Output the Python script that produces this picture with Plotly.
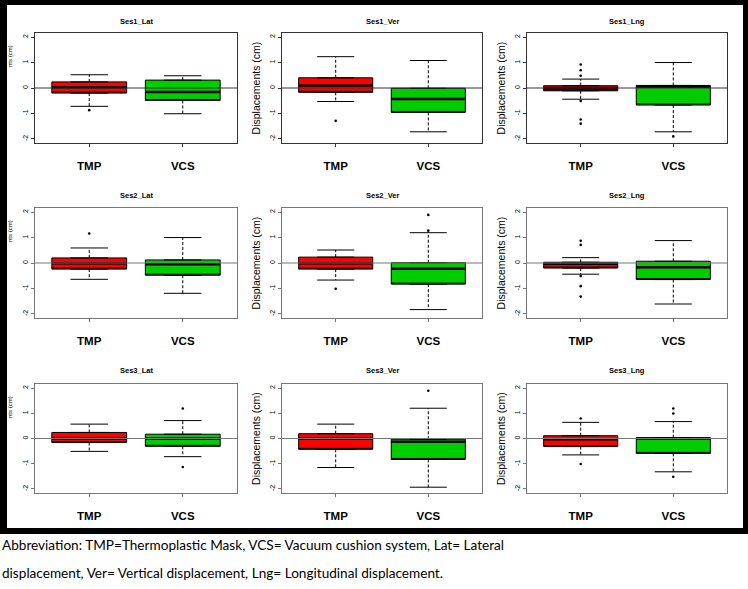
import plotly.graph_objects as go

W, H = 748, 589

groups = ["TMP", "VCS"]
panel_titles = ["Ses1_Lat", "Ses1_Ver", "Ses1_Lng",
                "Ses2_Lat", "Ses2_Ver", "Ses2_Lng",
                "Ses3_Lat", "Ses3_Ver", "Ses3_Lng"]
y_ticks = [-2, -1, 0, 1, 2]
y_tick_labels = ["-2", "-1", "0", "1", "2"]

# TMP statistics per panel
tmp_q1 = [-0.20, -0.17, -0.11, -0.24, -0.24, -0.20, -0.16, -0.43, -0.32]
tmp_med = [0.03, 0.10, 0.00, -0.01, -0.01, -0.03, 0.00, -0.01, -0.03]
tmp_q3 = [0.24, 0.40, 0.09, 0.20, 0.23, 0.03, 0.24, 0.19, 0.11]
tmp_lo = [-0.72, -0.53, -0.44, -0.64, -0.67, -0.44, -0.51, -1.15, -0.65]
tmp_hi = [0.52, 1.23, 0.35, 0.59, 0.51, 0.21, 0.57, 0.57, 0.64]
tmp_out = [[-0.87], [-1.29], [0.92, 0.70, 0.48, -0.51, -1.24, -1.40], [1.16],
           [-1.01], [0.87, 0.71, -0.51, -0.91, -1.32], [], [], [0.79, -1.01]]

# VCS statistics per panel
vcs_q1 = [-0.49, -0.96, -0.67, -0.48, -0.83, -0.65, -0.31, -0.83, -0.59]
vcs_med = [-0.16, -0.43, 0.05, -0.05, -0.23, -0.17, 0.00, -0.13, 0.00]
vcs_q3 = [0.31, -0.01, 0.10, 0.12, 0.01, 0.07, 0.17, -0.03, 0.03]
vcs_lo = [-1.01, -1.72, -1.72, -1.19, -1.83, -1.61, -0.72, -1.93, -1.32]
vcs_hi = [0.48, 1.08, 1.00, 1.00, 1.19, 0.88, 0.71, 1.20, 0.67]
vcs_out = [[], [], [-1.90], [], [1.27, 1.89], [], [1.19, -1.13], [1.89],
           [1.19, 0.99, -1.52]]

caption_lines = [
    "Abbreviation: TMP=Thermoplastic Mask, VCS= Vacuum cushion system, Lat= Lateral",
    "displacement, Ver= Vertical displacement, Lng= Longitudinal displacement.",
]

stats = {
    "TMP": (tmp_q1, tmp_med, tmp_q3, tmp_lo, tmp_hi, tmp_out, "#FF0000"),
    "VCS": (vcs_q1, vcs_med, vcs_q3, vcs_lo, vcs_hi, vcs_out, "#00CD00"),
}

# layout geometry (pixels)
col_px = [(35, 237), (282, 482), (527, 727)]
row_px = [(33, 143), (208, 318), (384, 493)]
title_px = [21, 195, 371]
frame_col = ["#333333", "#777777", "#777777"]

fig = go.Figure()
BW = 0.8
CAP = 0.4

for p in range(9):
    r, c = divmod(p, 3)
    ax = "" if p == 0 else str(p + 1)
    xr, yr = "x" + ax, "y" + ax
    for gi, g in enumerate(groups):
        q1, med, q3, lo, hi, out, col = stats[g]
        xc = gi + 1
        # box
        fig.add_trace(go.Box(
            x=[xc], q1=[q1[p]], median=[q1[p]], q3=[q3[p]],
            lowerfence=[q1[p]], upperfence=[q3[p]],
            width=BW, fillcolor=col, line=dict(color="black", width=1),
            boxpoints=False, hoverinfo="skip", showlegend=False,
            xaxis=xr, yaxis=yr))
        # whiskers (dashed)
        fig.add_trace(go.Scatter(
            x=[xc, xc, None, xc, xc], y=[q3[p], hi[p], None, q1[p], lo[p]],
            mode="lines", line=dict(color="black", width=1, dash="3px,2px"),
            hoverinfo="skip", showlegend=False, xaxis=xr, yaxis=yr))
        # caps
        fig.add_trace(go.Scatter(
            x=[xc - CAP / 2, xc + CAP / 2, None, xc - CAP / 2, xc + CAP / 2],
            y=[hi[p], hi[p], None, lo[p], lo[p]],
            mode="lines", line=dict(color="black", width=1),
            hoverinfo="skip", showlegend=False, xaxis=xr, yaxis=yr))
        # median
        fig.add_trace(go.Scatter(
            x=[xc - BW / 2, xc + BW / 2], y=[med[p], med[p]],
            mode="lines", line=dict(color="black", width=2.5),
            hoverinfo="skip", showlegend=False, xaxis=xr, yaxis=yr))
        # outliers
        if out[p]:
            fig.add_trace(go.Scatter(
                x=[xc] * len(out[p]), y=out[p], mode="markers",
                marker=dict(color="black", size=2.6),
                hoverinfo="skip", showlegend=False, xaxis=xr, yaxis=yr))
    # zero reference line over boxes
    fig.add_shape(type="line", xref=xr + " domain", yref=yr,
                  x0=0, x1=1, y0=0, y1=0,
                  line=dict(color=frame_col[r], width=1.2))

    x0, x1 = col_px[c]
    y0, y1 = row_px[r]
    xd = [x0 / W, x1 / W]
    yd = [1 - y1 / H, 1 - y0 / H]
    fig.update_layout(**{
        "xaxis" + ax: dict(domain=xd, range=[0.42, 2.58], anchor=yr,
                           tickmode="array", tickvals=[1, 2], ticktext=groups,
                           ticks="outside", ticklen=3, tickcolor=frame_col[r],
                           ticklabelstandoff=9,
                           showline=True, linecolor=frame_col[r], linewidth=1.3,
                           mirror=True, showgrid=False, zeroline=False,
                           tickfont=dict(family="Liberation Sans", size=11.5,
                                         color="black", weight="bold")),
        "yaxis" + ax: dict(domain=yd, range=[-2.16, 2.16], anchor=xr,
                           tickmode="array", tickvals=y_ticks,
                           ticktext=y_tick_labels, tickangle=-90,
                           ticks="outside", ticklen=3, tickcolor=frame_col[r],
                           showline=True, linecolor=frame_col[r], linewidth=1.3,
                           mirror=True, showgrid=False, zeroline=False,
                           tickfont=dict(family="Liberation Sans", size=7,
                                         color="black"),
                           title=dict(text="Displacements (cm)" if c > 0 else "",
                                      standoff=6,
                                      font=dict(family="Liberation Sans",
                                                size=10.5, color="black"))),
    })
    fig.add_annotation(x=(x0 + x1) / 2 / W, y=1 - title_px[r] / H,
                       xref="paper", yref="paper", text=panel_titles[p],
                       showarrow=False, xanchor="center", yanchor="middle",
                       font=dict(family="Liberation Sans", size=7.5,
                                 color="black", weight="bold"))
    if c == 0:
        fig.add_annotation(x=10 / W, y=1 - (y0 + 10) / H, xref="paper",
                           yref="paper", text="nts (cm)", textangle=-90,
                           showarrow=False, xanchor="center", yanchor="top",
                           font=dict(family="Liberation Sans", size=6,
                                     color="black"))

# black photo frame around the panels
frame_rects = [(0, 0, 748, 5), (0, 0, 7, 534), (743, 0, 748, 534), (0, 528, 748, 534)]
for (a, b, cc, d) in frame_rects:
    fig.add_shape(type="rect", xref="paper", yref="paper",
                  x0=a / W, x1=cc / W, y0=1 - d / H, y1=1 - b / H,
                  fillcolor="black", line=dict(width=0), layer="above")

for i, line in enumerate(caption_lines):
    fig.add_annotation(x=0, y=1 - (545 + 28 * i) / H, xref="paper", yref="paper",
                       text=line, showarrow=False, xanchor="left",
                       yanchor="middle",
                       font=dict(family="Lato", size=13.6, color="black"))

fig.update_layout(width=W, height=H, margin=dict(l=0, r=0, t=0, b=0),
                  paper_bgcolor="white", plot_bgcolor="white",
                  showlegend=False)

fig.write_html("out.html",
               config={"displayModeBar": False},
               post_script="document.body.style.margin='0px';"
                           "document.body.style.overflow='hidden';")
